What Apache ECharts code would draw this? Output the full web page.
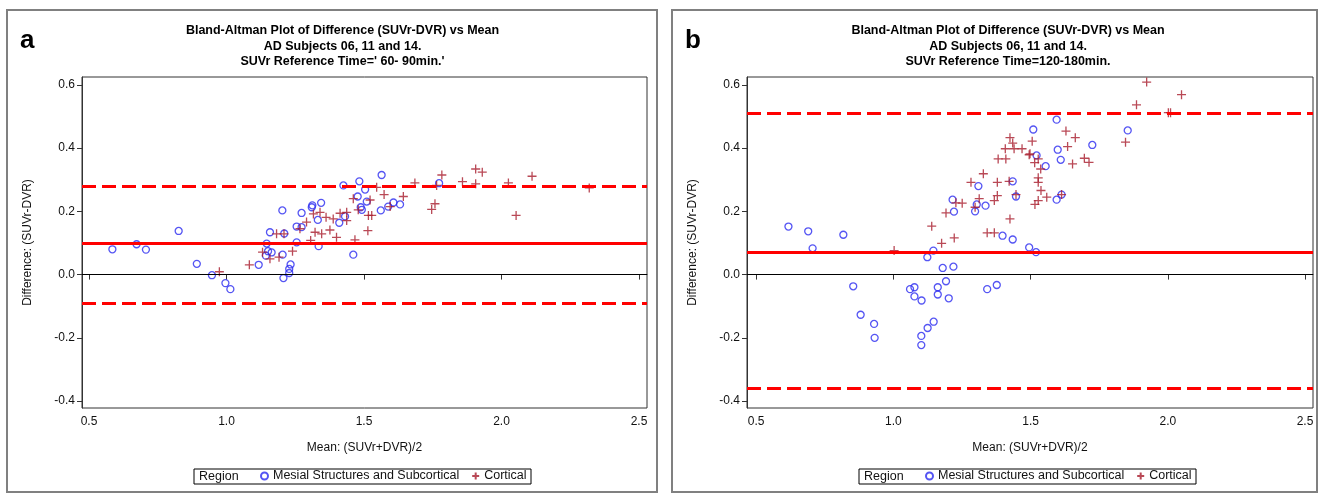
<!DOCTYPE html>
<html><head><meta charset="utf-8">
<script src="https://cdn.jsdelivr.net/npm/echarts@6/dist/echarts.min.js"></script>
<style>html,body{margin:0;padding:0;background:#fff}#c{width:1322px;height:494px}</style>
</head><body><div id="c"></div>
<script>
// ---- data ----
const xTicks = [0.5, 1.0, 1.5, 2.0, 2.5];
const yTicks = [-0.4, -0.2, 0.0, 0.2, 0.4, 0.6];
const seriesNames = ['Mesial Structures and Subcortical', 'Cortical'];
const titleLines = ['Bland-Altman Plot of Difference (SUVr-DVR) vs Mean', 'AD Subjects 06, 11 and 14.'];
const refTimes = ["SUVr Reference Time=' 60- 90min.'", 'SUVr Reference Time=120-180min.'];
const panelLetters = ['a', 'b'];
// limits: [lower LoA, mean, upper LoA]
const aLimits = [-0.088, 0.097, 0.280];
const bLimits = [-0.360, 0.074, 0.510];

const aMesial = [[0.585,0.080],[0.673,0.096],[0.707,0.079],[0.826,0.138],[0.892,0.034],[0.947,-0.002],[0.996,-0.027],[1.014,-0.046],[1.117,0.031],[1.146,0.098],[1.143,0.060],[1.151,0.074],[1.164,0.070],[1.204,0.063],[1.207,-0.011],[1.228,0.018],[1.228,0.005],[1.233,0.032],[1.255,0.102],[1.335,0.090],[1.461,0.063],[1.158,0.134],[1.203,0.203],[1.21,0.13],[1.255,0.152],[1.273,0.195],[1.273,0.150],[1.310,0.213],[1.312,0.219],[1.344,0.227],[1.332,0.173],[1.41,0.164],[1.425,0.282],[1.431,0.184],[1.477,0.247],[1.483,0.295],[1.488,0.213],[1.492,0.205],[1.504,0.269],[1.510,0.231],[1.564,0.315],[1.561,0.203],[1.588,0.215],[1.607,0.228],[1.631,0.222],[1.773,0.289]];
const aCortical = [[0.974,0.009],[1.083,0.031],[1.131,0.071],[1.158,0.050],[1.191,0.055],[1.240,0.074],[1.306,0.108],[1.467,0.110],[1.182,0.129],[1.209,0.129],[1.267,0.145],[1.291,0.166],[1.316,0.192],[1.34,0.197],[1.322,0.134],[1.346,0.129],[1.362,0.181],[1.376,0.141],[1.388,0.176],[1.400,0.118],[1.413,0.194],[1.437,0.197],[1.461,0.240],[1.479,0.205],[1.516,0.187],[1.514,0.139],[1.437,0.171],[1.522,0.236],[1.528,0.187],[1.546,0.276],[1.573,0.253],[1.595,0.215],[1.643,0.247],[1.685,0.290],[1.746,0.206],[1.758,0.224],[1.764,0.282],[1.783,0.315],[1.858,0.294],[1.906,0.334],[1.930,0.324],[1.906,0.287],[2.025,0.290],[2.053,0.187],[2.111,0.311],[2.319,0.274]];
const bMesial = [[0.618,0.152],[0.690,0.137],[0.706,0.083],[0.818,0.126],[1.124,0.055],[1.146,0.076],[1.216,0.237],[1.221,0.199],[1.298,0.200],[1.304,0.222],[1.310,0.280],[1.336,0.218],[1.398,0.123],[1.435,0.295],[1.447,0.247],[1.435,0.111],[1.495,0.086],[1.595,0.490],[1.510,0.459],[1.854,0.456],[1.725,0.410],[1.599,0.395],[1.610,0.363],[1.522,0.377],[1.555,0.343],[1.595,0.237],[1.613,0.253],[1.520,0.071],[0.854,-0.037],[0.881,-0.127],[0.930,-0.156],[0.932,-0.200],[1.061,-0.046],[1.077,-0.040],[1.077,-0.069],[1.103,-0.082],[1.102,-0.194],[1.102,-0.223],[1.125,-0.169],[1.147,-0.149],[1.162,-0.040],[1.162,-0.063],[1.180,0.021],[1.192,-0.021],[1.202,-0.075],[1.219,0.025],[1.342,-0.046],[1.377,-0.033]];
const bCortical = [[1.003,0.076],[1.140,0.153],[1.176,0.099],[1.192,0.195],[1.222,0.116],[1.228,0.227],[1.251,0.226],[1.283,0.292],[1.298,0.213],[1.313,0.240],[1.328,0.319],[1.342,0.132],[1.368,0.132],[1.368,0.234],[1.379,0.250],[1.379,0.292],[1.382,0.366],[1.410,0.366],[1.408,0.398],[1.422,0.295],[1.425,0.176],[1.425,0.433],[1.435,0.416],[1.440,0.398],[1.447,0.253],[1.469,0.398],[1.495,0.379],[1.923,0.609],[2.050,0.569],[1.886,0.537],[2.002,0.512],[2.010,0.512],[1.846,0.419],[1.629,0.454],[1.663,0.433],[1.506,0.422],[1.635,0.405],[1.498,0.382],[1.515,0.354],[1.528,0.366],[1.537,0.334],[1.696,0.368],[1.713,0.355],[1.653,0.350],[1.528,0.306],[1.528,0.292],[1.538,0.266],[1.559,0.245],[1.528,0.234],[1.516,0.222],[1.613,0.253]];

// ---- styling / layout ----
const FONT = 'Liberation Sans, Arial, sans-serif';
const BLUE = '#2b2bf0';
const DRED = '#a81c2c';
const RED = '#ff0000';
const PLUS = 'path://M4,0L4,8M0,4L8,4';
const grids = [
  {left: 82, top: 77, width: 565, height: 331},
  {left: 747, top: 77, width: 566, height: 331}
];
const xRanges = [[0.4745, 2.529], [0.467, 2.529]];
const yRange = [-0.422, 0.625];

function xAxis(i) {
  return {
    type: 'value', gridIndex: i, min: xRanges[i][0], max: xRanges[i][1],
    name: 'Mean: (SUVr+DVR)/2', nameLocation: 'middle', nameGap: 34,
    nameTextStyle: {fontFamily: FONT, fontSize: 12, color: '#111'},
    axisLine: {show: true, lineStyle: {color: '#333', width: 1}},
    axisTick: {show: true, length: 5, lineStyle: {color: '#333'}, customValues: xTicks},
    axisLabel: {customValues: xTicks, formatter: v => v.toFixed(1), fontFamily: FONT, fontSize: 12, color: '#111', margin: 8},
    splitLine: {show: false}
  };
}
function yAxis(i) {
  return {
    type: 'value', gridIndex: i, min: yRange[0], max: yRange[1],
    name: 'Difference: (SUVr-DVR)', nameLocation: 'middle', nameGap: 48,
    nameTextStyle: {fontFamily: FONT, fontSize: 12, color: '#111'},
    axisLine: {show: true, lineStyle: {color: '#333', width: 1}},
    axisTick: {show: true, length: 5, lineStyle: {color: '#333'}, customValues: yTicks},
    axisLabel: {customValues: yTicks, formatter: v => v.toFixed(1), fontFamily: FONT, fontSize: 12, color: '#111', margin: 7},
    splitLine: {show: false}
  };
}
function refLines(lim) {
  return {
    silent: true, symbol: ['none', 'none'], label: {show: false}, animation: false,
    data: [
      {yAxis: 0, lineStyle: {color: '#000', width: 1.2, type: 'solid'}},
      {yAxis: lim[1], lineStyle: {color: RED, width: 3, type: 'solid'}},
      {yAxis: lim[0], lineStyle: {color: RED, width: 3, type: [14, 6]}},
      {yAxis: lim[2], lineStyle: {color: RED, width: 3, type: [14, 6]}}
    ]
  };
}
function mesial(i, data, lim) {
  return {
    name: seriesNames[0], type: 'scatter', xAxisIndex: i, yAxisIndex: i, data: data,
    symbol: 'circle', symbolSize: 7, z: 3,
    itemStyle: {color: 'rgba(0,0,0,0)', borderColor: BLUE, borderWidth: 1.3},
    markLine: refLines(lim)
  };
}
function cortical(i, data) {
  return {
    name: seriesNames[1], type: 'scatter', xAxisIndex: i, yAxisIndex: i, data: data,
    symbol: PLUS, symbolSize: 9, z: 4,
    itemStyle: {color: 'rgba(0,0,0,0)', borderColor: DRED, borderWidth: 1.3}
  };
}
function legend(i) {
  return {
    data: seriesNames, left: grids[i].left + 178, top: 469.5, orient: 'horizontal',
    itemWidth: 7, itemHeight: 7, itemGap: 12, padding: 0, selectedMode: false,
    textStyle: {fontFamily: FONT, fontSize: 12.5, color: '#111'}
  };
}

const graphic = [];
[0, 1].forEach(i => {
  const g = grids[i];
  const px = i === 0 ? 7 : 672;
  const pw = i === 0 ? 650 : 645;
  graphic.push({type: 'rect', silent: true, shape: {x: px, y: 10, width: pw, height: 482}, style: {fill: 'none', stroke: '#808080', lineWidth: 2}});
  graphic.push({type: 'text', silent: true, x: px + 13, y: 41, style: {text: panelLetters[i], font: 'bold 26px ' + FONT, fill: '#000', verticalAlign: 'middle'}});
  const cx = g.left + g.width / 2 - 22;
  [titleLines[0], titleLines[1], refTimes[i]].forEach((t, k) => {
    graphic.push({type: 'text', silent: true, x: cx, y: 31 + k * 15.5, style: {text: t, font: 'bold 12.5px ' + FONT, fill: '#000', align: 'center', verticalAlign: 'middle'}});
  });
  // legend frame + label
  graphic.push({type: 'rect', silent: true, shape: {x: g.left + 112, y: 469, width: 337, height: 15}, style: {fill: 'none', stroke: '#000', lineWidth: 1}});
  graphic.push({type: 'text', silent: true, x: g.left + 117, y: 476.5, style: {text: 'Region', font: '12.5px ' + FONT, fill: '#111', verticalAlign: 'middle'}});
});

const chart = echarts.init(document.getElementById('c'), null, {renderer: 'canvas'});
chart.setOption({
  backgroundColor: '#fff',
  animation: false,
  grid: grids.map(g => Object.assign({show: true, borderColor: '#333', borderWidth: 1, backgroundColor: '#fff'}, g)),
  xAxis: [xAxis(0), xAxis(1)],
  yAxis: [yAxis(0), yAxis(1)],
  legend: [legend(0), legend(1)],
  series: [mesial(0, aMesial, aLimits), cortical(0, aCortical), mesial(1, bMesial, bLimits), cortical(1, bCortical)],
  graphic: graphic
});
</script></body></html>
